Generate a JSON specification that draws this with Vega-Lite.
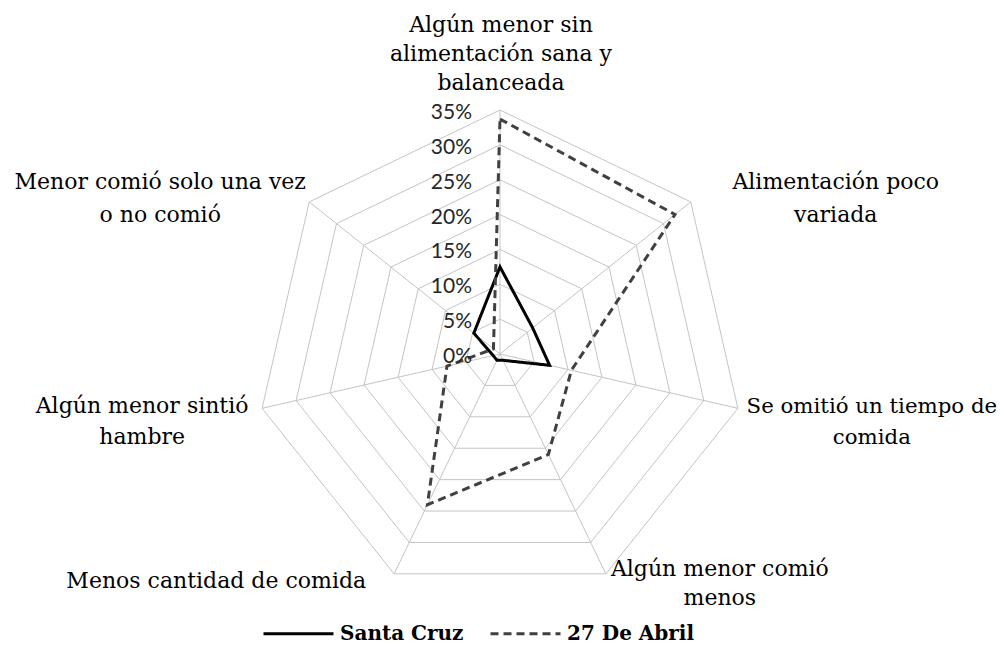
{
  "$schema": "https://vega.github.io/schema/vega-lite/v6.json",
  "width": 1005,
  "height": 645,
  "autosize": "none",
  "padding": 0,
  "background": "white",
  "config": {
    "view": {"stroke": null},
    "legend": {
      "orient": "none",
      "legendX": 262,
      "legendY": 597,
      "direction": "horizontal",
      "symbolType": "stroke",
      "symbolSize": 4900,
      "symbolStrokeWidth": 3,
      "labelFont": "DejaVu Serif",
      "labelFontSize": 20,
      "labelFontWeight": "bold",
      "labelColor": "#000000",
      "labelOffset": 5,
      "columnPadding": 20,
      "padding": 0,
      "labelLimit": 300
    }
  },
  "datasets": {
    "series": [
      {"serie": "Santa Cruz", "k": 0, "valor": 0.125},
      {"serie": "Santa Cruz", "k": 1, "valor": 0.06},
      {"serie": "Santa Cruz", "k": 2, "valor": 0.073},
      {"serie": "Santa Cruz", "k": 3, "valor": 0.01},
      {"serie": "Santa Cruz", "k": 4, "valor": 0.01},
      {"serie": "Santa Cruz", "k": 5, "valor": 0.01},
      {"serie": "Santa Cruz", "k": 6, "valor": 0.048},
      {"serie": "27 De Abril", "k": 0, "valor": 0.337},
      {"serie": "27 De Abril", "k": 1, "valor": 0.321},
      {"serie": "27 De Abril", "k": 2, "valor": 0.105},
      {"serie": "27 De Abril", "k": 3, "valor": 0.16},
      {"serie": "27 De Abril", "k": 4, "valor": 0.24},
      {"serie": "27 De Abril", "k": 5, "valor": 0.078},
      {"serie": "27 De Abril", "k": 6, "valor": 0.012}
    ],
    "ejes": [
      {"k": 0, "eje": "Algún menor sin\nalimentación sana y\nbalanceada"},
      {"k": 1, "eje": "Alimentación poco\nvariada"},
      {"k": 2, "eje": "Se omitió un tiempo de\ncomida"},
      {"k": 3, "eje": "Algún menor comió\nmenos"},
      {"k": 4, "eje": "Menos cantidad de comida"},
      {"k": 5, "eje": "Algún menor sintió\nhambre"},
      {"k": 6, "eje": "Menor comió solo una vez\no no comió"}
    ],
    "niveles": [
      {"nivel": 0, "k": [0, 1, 2, 3, 4, 5, 6]},
      {"nivel": 0.05, "k": [0, 1, 2, 3, 4, 5, 6]},
      {"nivel": 0.1, "k": [0, 1, 2, 3, 4, 5, 6]},
      {"nivel": 0.15, "k": [0, 1, 2, 3, 4, 5, 6]},
      {"nivel": 0.2, "k": [0, 1, 2, 3, 4, 5, 6]},
      {"nivel": 0.25, "k": [0, 1, 2, 3, 4, 5, 6]},
      {"nivel": 0.3, "k": [0, 1, 2, 3, 4, 5, 6]},
      {"nivel": 0.35, "k": [0, 1, 2, 3, 4, 5, 6]}
    ]
  },
  "layer": [
    {
      "data": {"name": "niveles"},
      "transform": [
        {"flatten": ["k"]},
        {"filter": "datum.nivel > 0"},
        {"calculate": "datum.nivel * 100 * sin(datum.k * 2 * PI / 7)", "as": "px"},
        {"calculate": "datum.nivel * 100 * cos(datum.k * 2 * PI / 7)", "as": "py"}
      ],
      "mark": {"type": "line", "interpolate": "linear-closed", "stroke": "#c4c4c4", "strokeWidth": 1},
      "encoding": {
        "x": {"field": "px", "type": "quantitative", "scale": {"domain": [-71.72, 72.44], "nice": false, "zero": false}, "axis": null},
        "y": {"field": "py", "type": "quantitative", "scale": {"domain": [-41.74, 50.78], "nice": false, "zero": false}, "axis": null},
        "detail": {"field": "nivel", "type": "nominal"},
        "order": {"field": "k", "type": "quantitative"}
      }
    },
    {
      "data": {"name": "ejes"},
      "transform": [
        {"calculate": "35 * sin(datum.k * 2 * PI / 7)", "as": "px"},
        {"calculate": "35 * cos(datum.k * 2 * PI / 7)", "as": "py"},
        {"calculate": "0", "as": "cx"}
      ],
      "mark": {"type": "rule", "stroke": "#c4c4c4", "strokeWidth": 1},
      "encoding": {
        "x": {"field": "cx", "type": "quantitative"},
        "y": {"field": "cx", "type": "quantitative"},
        "x2": {"field": "px"},
        "y2": {"field": "py"}
      }
    },
    {
      "data": {"name": "series"},
      "transform": [
        {"calculate": "datum.valor * 100 * sin(datum.k * 2 * PI / 7)", "as": "px"},
        {"calculate": "datum.valor * 100 * cos(datum.k * 2 * PI / 7)", "as": "py"}
      ],
      "mark": {"type": "line", "interpolate": "linear-closed", "strokeWidth": 3},
      "encoding": {
        "x": {"field": "px", "type": "quantitative"},
        "y": {"field": "py", "type": "quantitative"},
        "order": {"field": "k", "type": "quantitative"},
        "color": {"field": "serie", "type": "nominal", "scale": {"domain": ["Santa Cruz", "27 De Abril"], "range": ["#000000", "#404040"]}, "legend": {"title": null}},
        "strokeDash": {"field": "serie", "type": "nominal", "scale": {"domain": ["Santa Cruz", "27 De Abril"], "range": [[1, 0], [8, 5]]}, "legend": {"title": null}}
      }
    },
    {
      "data": {"name": "niveles"},
      "transform": [
        {"calculate": "0", "as": "px"},
        {"calculate": "datum.nivel * 100", "as": "py"}
      ],
      "mark": {"type": "text", "align": "right", "baseline": "middle", "dx": -28, "dy": 3, "font": "Lato", "fontSize": 21, "fill": "#262626"},
      "encoding": {
        "x": {"field": "px", "type": "quantitative"},
        "y": {"field": "py", "type": "quantitative"},
        "text": {"field": "nivel", "type": "quantitative", "format": ".0%"}
      }
    },
    {
      "data": {"name": "ejes"},
      "transform": [
        {"filter": "datum.k == 0"},
        {"calculate": "35 * sin(datum.k * 2 * PI / 7)", "as": "px"},
        {"calculate": "35 * cos(datum.k * 2 * PI / 7)", "as": "py"}
      ],
      "mark": {"type": "text", "align": "center", "baseline": "alphabetic", "lineBreak": "\n", "lineHeight": 29, "dx": 1, "dy": -78, "font": "DejaVu Serif", "fontSize": 22, "fill": "#000000"},
      "encoding": {
        "x": {"field": "px", "type": "quantitative"},
        "y": {"field": "py", "type": "quantitative"},
        "text": {"field": "eje", "type": "nominal"}
      }
    },
    {
      "data": {"name": "ejes"},
      "transform": [
        {"filter": "datum.k == 1"},
        {"calculate": "35 * sin(datum.k * 2 * PI / 7)", "as": "px"},
        {"calculate": "35 * cos(datum.k * 2 * PI / 7)", "as": "py"}
      ],
      "mark": {"type": "text", "align": "center", "baseline": "alphabetic", "lineBreak": "\n", "lineHeight": 33, "dx": 145, "dy": -13, "font": "DejaVu Serif", "fontSize": 22, "fill": "#000000"},
      "encoding": {
        "x": {"field": "px", "type": "quantitative"},
        "y": {"field": "py", "type": "quantitative"},
        "text": {"field": "eje", "type": "nominal"}
      }
    },
    {
      "data": {"name": "ejes"},
      "transform": [
        {"filter": "datum.k == 2"},
        {"calculate": "35 * sin(datum.k * 2 * PI / 7)", "as": "px"},
        {"calculate": "35 * cos(datum.k * 2 * PI / 7)", "as": "py"}
      ],
      "mark": {"type": "text", "align": "center", "baseline": "alphabetic", "lineBreak": "\n", "lineHeight": 31, "dx": 134, "dy": 5, "font": "DejaVu Serif", "fontSize": 21.3, "fill": "#000000"},
      "encoding": {
        "x": {"field": "px", "type": "quantitative"},
        "y": {"field": "py", "type": "quantitative"},
        "text": {"field": "eje", "type": "nominal"}
      }
    },
    {
      "data": {"name": "ejes"},
      "transform": [
        {"filter": "datum.k == 3"},
        {"calculate": "35 * sin(datum.k * 2 * PI / 7)", "as": "px"},
        {"calculate": "35 * cos(datum.k * 2 * PI / 7)", "as": "py"}
      ],
      "mark": {"type": "text", "align": "center", "baseline": "alphabetic", "lineBreak": "\n", "lineHeight": 29, "dx": 114, "dy": 2, "font": "DejaVu Serif", "fontSize": 22, "fill": "#000000"},
      "encoding": {
        "x": {"field": "px", "type": "quantitative"},
        "y": {"field": "py", "type": "quantitative"},
        "text": {"field": "eje", "type": "nominal"}
      }
    },
    {
      "data": {"name": "ejes"},
      "transform": [
        {"filter": "datum.k == 4"},
        {"calculate": "35 * sin(datum.k * 2 * PI / 7)", "as": "px"},
        {"calculate": "35 * cos(datum.k * 2 * PI / 7)", "as": "py"}
      ],
      "mark": {"type": "text", "align": "right", "baseline": "alphabetic", "lineBreak": "\n", "dx": -28, "dy": 14, "font": "DejaVu Serif", "fontSize": 22, "fill": "#000000"},
      "encoding": {
        "x": {"field": "px", "type": "quantitative"},
        "y": {"field": "py", "type": "quantitative"},
        "text": {"field": "eje", "type": "nominal"}
      }
    },
    {
      "data": {"name": "ejes"},
      "transform": [
        {"filter": "datum.k == 5"},
        {"calculate": "35 * sin(datum.k * 2 * PI / 7)", "as": "px"},
        {"calculate": "35 * cos(datum.k * 2 * PI / 7)", "as": "py"}
      ],
      "mark": {"type": "text", "align": "center", "baseline": "alphabetic", "lineBreak": "\n", "lineHeight": 31, "dx": -120, "dy": 5, "font": "DejaVu Serif", "fontSize": 22, "fill": "#000000"},
      "encoding": {
        "x": {"field": "px", "type": "quantitative"},
        "y": {"field": "py", "type": "quantitative"},
        "text": {"field": "eje", "type": "nominal"}
      }
    },
    {
      "data": {"name": "ejes"},
      "transform": [
        {"filter": "datum.k == 6"},
        {"calculate": "35 * sin(datum.k * 2 * PI / 7)", "as": "px"},
        {"calculate": "35 * cos(datum.k * 2 * PI / 7)", "as": "py"}
      ],
      "mark": {"type": "text", "align": "center", "baseline": "alphabetic", "lineBreak": "\n", "lineHeight": 33, "dx": -149, "dy": -13, "font": "DejaVu Serif", "fontSize": 22, "fill": "#000000"},
      "encoding": {
        "x": {"field": "px", "type": "quantitative"},
        "y": {"field": "py", "type": "quantitative"},
        "text": {"field": "eje", "type": "nominal"}
      }
    }
  ]
}
